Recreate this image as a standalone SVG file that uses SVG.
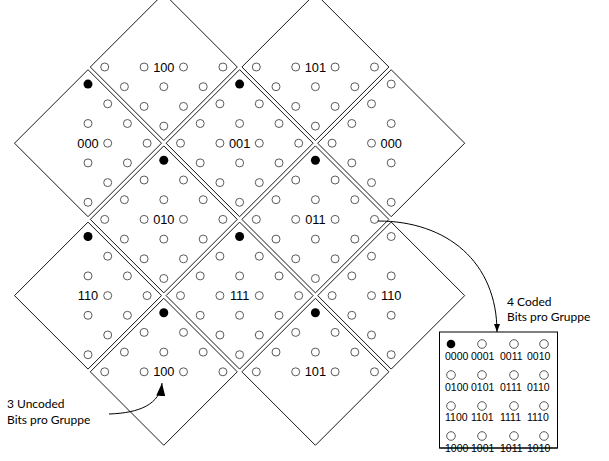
<svg xmlns="http://www.w3.org/2000/svg" xmlns:xlink="http://www.w3.org/1999/xlink" width="609" height="461" viewBox="0 0 609 461">
<style>
.dia{fill:#fff;stroke:#1a1a1a;stroke-width:1}
.o{fill:#fff;stroke:#5a5a5a;stroke-width:1}
.f{fill:#000;stroke:none}
.lbl{font-family:"Liberation Sans",Arial,sans-serif;font-size:12.8px;fill:#000;text-anchor:middle}
.bl{font-family:"Liberation Sans",Arial,sans-serif;font-size:10.5px;fill:#000}
.note{font-family:Lato,"Open Sans",sans-serif;font-size:12px;fill:#000}
.con{fill:none;stroke:#000;stroke-width:1}
</style>
<defs>
<marker id="ahS" markerUnits="userSpaceOnUse" markerWidth="8" markerHeight="6" refX="8" refY="3" orient="auto"><path d="M0,0 L8,3 L0,6 z" fill="#000"/></marker>
<marker id="ahL" markerUnits="userSpaceOnUse" markerWidth="13" markerHeight="9" refX="13" refY="4.5" orient="auto"><path d="M0,0 L13,4.5 L0,9 z" fill="#000"/></marker>
</defs>

<!-- top row -->
<g id="d100t" transform="translate(163.8,67)">
<polygon class="dia" points="0,-73.5 73.5,0 0,73.5 -73.5,0"/>
<circle class="o" r="4" cx="59.1" cy="0"/><circle class="o" r="4" cx="19.7" cy="0"/><circle class="o" r="4" cx="-19.7" cy="0"/><circle class="o" r="4" cx="-59.1" cy="0"/>
<circle class="o" r="4" cx="39.4" cy="19.7"/><circle class="o" r="4" cx="0" cy="19.7"/><circle class="o" r="4" cx="-39.4" cy="19.7"/>
<circle class="o" r="4" cx="19.7" cy="39.4"/><circle class="o" r="4" cx="-19.7" cy="39.4"/>
<circle class="o" r="4" cx="0" cy="59.1"/>
<text class="lbl" x="0" y="4.5">100</text>
</g>
<g id="d101t" transform="translate(315.4,67)">
<polygon class="dia" points="0,-73.5 73.5,0 0,73.5 -73.5,0"/>
<circle class="o" r="4" cx="59.1" cy="0"/><circle class="o" r="4" cx="19.7" cy="0"/><circle class="o" r="4" cx="-19.7" cy="0"/><circle class="o" r="4" cx="-59.1" cy="0"/>
<circle class="o" r="4" cx="39.4" cy="19.7"/><circle class="o" r="4" cx="0" cy="19.7"/><circle class="o" r="4" cx="-39.4" cy="19.7"/>
<circle class="o" r="4" cx="19.7" cy="39.4"/><circle class="o" r="4" cx="-19.7" cy="39.4"/>
<circle class="o" r="4" cx="0" cy="59.1"/>
<text class="lbl" x="0" y="4.5">101</text>
</g>

<!-- second row -->
<g id="d000l" transform="translate(88,143.2)">
<polygon class="dia" points="0,-73.5 73.5,0 0,73.5 -73.5,0"/>
<circle class="f" r="4.5" cx="0" cy="-59.1"/>
<circle class="o" r="4" cx="19.7" cy="-39.4"/>
<circle class="o" r="4" cx="39.4" cy="-19.7"/><circle class="o" r="4" cx="0" cy="-19.7"/>
<circle class="o" r="4" cx="59.1" cy="0"/><circle class="o" r="4" cx="19.7" cy="0"/>
<circle class="o" r="4" cx="39.4" cy="19.7"/><circle class="o" r="4" cx="0" cy="19.7"/>
<circle class="o" r="4" cx="19.7" cy="39.4"/>
<circle class="o" r="4" cx="0" cy="59.1"/>
<text class="lbl" x="0" y="4.5">000</text>
</g>
<g id="d001" transform="translate(239.6,143.2)">
<polygon class="dia" points="0,-73.5 73.5,0 0,73.5 -73.5,0"/>
<circle class="f" r="4.5" cx="0" cy="-59.1"/>
<circle class="o" r="4" cx="19.7" cy="-39.4"/><circle class="o" r="4" cx="-19.7" cy="-39.4"/>
<circle class="o" r="4" cx="39.4" cy="-19.7"/><circle class="o" r="4" cx="0" cy="-19.7"/><circle class="o" r="4" cx="-39.4" cy="-19.7"/>
<circle class="o" r="4" cx="59.1" cy="0"/><circle class="o" r="4" cx="19.7" cy="0"/><circle class="o" r="4" cx="-19.7" cy="0"/><circle class="o" r="4" cx="-59.1" cy="0"/>
<circle class="o" r="4" cx="39.4" cy="19.7"/><circle class="o" r="4" cx="0" cy="19.7"/><circle class="o" r="4" cx="-39.4" cy="19.7"/>
<circle class="o" r="4" cx="19.7" cy="39.4"/><circle class="o" r="4" cx="-19.7" cy="39.4"/>
<circle class="o" r="4" cx="0" cy="59.1"/>
<text class="lbl" x="0" y="4.5">001</text>
</g>
<g id="d000r" transform="translate(391.2,143.2)">
<polygon class="dia" points="0,-73.5 73.5,0 0,73.5 -73.5,0"/>
<circle class="o" r="4" cx="0" cy="-59.1"/>
<circle class="o" r="4" cx="-19.7" cy="-39.4"/>
<circle class="o" r="4" cx="-39.4" cy="-19.7"/><circle class="o" r="4" cx="0" cy="-19.7"/>
<circle class="o" r="4" cx="-59.1" cy="0"/><circle class="o" r="4" cx="-19.7" cy="0"/>
<circle class="o" r="4" cx="-39.4" cy="19.7"/><circle class="o" r="4" cx="0" cy="19.7"/>
<circle class="o" r="4" cx="-19.7" cy="39.4"/>
<circle class="o" r="4" cx="0" cy="59.1"/>
<text class="lbl" x="0" y="4.5">000</text>
</g>

<!-- third row -->
<g id="d010" transform="translate(163.8,219.4)">
<polygon class="dia" points="0,-73.5 73.5,0 0,73.5 -73.5,0"/>
<circle class="f" r="4.5" cx="0" cy="-59.1"/>
<circle class="o" r="4" cx="19.7" cy="-39.4"/><circle class="o" r="4" cx="-19.7" cy="-39.4"/>
<circle class="o" r="4" cx="39.4" cy="-19.7"/><circle class="o" r="4" cx="0" cy="-19.7"/><circle class="o" r="4" cx="-39.4" cy="-19.7"/>
<circle class="o" r="4" cx="59.1" cy="0"/><circle class="o" r="4" cx="19.7" cy="0"/><circle class="o" r="4" cx="-19.7" cy="0"/><circle class="o" r="4" cx="-59.1" cy="0"/>
<circle class="o" r="4" cx="39.4" cy="19.7"/><circle class="o" r="4" cx="0" cy="19.7"/><circle class="o" r="4" cx="-39.4" cy="19.7"/>
<circle class="o" r="4" cx="19.7" cy="39.4"/><circle class="o" r="4" cx="-19.7" cy="39.4"/>
<circle class="o" r="4" cx="0" cy="59.1"/>
<text class="lbl" x="0" y="4.5">010</text>
</g>
<g id="d011" transform="translate(315.4,219.4)">
<polygon class="dia" points="0,-73.5 73.5,0 0,73.5 -73.5,0"/>
<circle class="f" r="4.5" cx="0" cy="-59.1"/>
<circle class="o" r="4" cx="19.7" cy="-39.4"/><circle class="o" r="4" cx="-19.7" cy="-39.4"/>
<circle class="o" r="4" cx="39.4" cy="-19.7"/><circle class="o" r="4" cx="0" cy="-19.7"/><circle class="o" r="4" cx="-39.4" cy="-19.7"/>
<circle class="o" r="4" cx="59.1" cy="0"/><circle class="o" r="4" cx="19.7" cy="0"/><circle class="o" r="4" cx="-19.7" cy="0"/><circle class="o" r="4" cx="-59.1" cy="0"/>
<circle class="o" r="4" cx="39.4" cy="19.7"/><circle class="o" r="4" cx="0" cy="19.7"/><circle class="o" r="4" cx="-39.4" cy="19.7"/>
<circle class="o" r="4" cx="19.7" cy="39.4"/><circle class="o" r="4" cx="-19.7" cy="39.4"/>
<circle class="o" r="4" cx="0" cy="59.1"/>
<text class="lbl" x="0" y="4.5">011</text>
</g>

<!-- fourth row -->
<g id="d110l" transform="translate(88,295.6)">
<polygon class="dia" points="0,-73.5 73.5,0 0,73.5 -73.5,0"/>
<circle class="f" r="4.5" cx="0" cy="-59.1"/>
<circle class="o" r="4" cx="19.7" cy="-39.4"/>
<circle class="o" r="4" cx="39.4" cy="-19.7"/><circle class="o" r="4" cx="0" cy="-19.7"/>
<circle class="o" r="4" cx="59.1" cy="0"/><circle class="o" r="4" cx="19.7" cy="0"/>
<circle class="o" r="4" cx="39.4" cy="19.7"/><circle class="o" r="4" cx="0" cy="19.7"/>
<circle class="o" r="4" cx="19.7" cy="39.4"/>
<circle class="o" r="4" cx="0" cy="59.1"/>
<text class="lbl" x="0" y="4.5">110</text>
</g>
<g id="d111" transform="translate(239.6,295.6)">
<polygon class="dia" points="0,-73.5 73.5,0 0,73.5 -73.5,0"/>
<circle class="f" r="4.5" cx="0" cy="-59.1"/>
<circle class="o" r="4" cx="19.7" cy="-39.4"/><circle class="o" r="4" cx="-19.7" cy="-39.4"/>
<circle class="o" r="4" cx="39.4" cy="-19.7"/><circle class="o" r="4" cx="0" cy="-19.7"/><circle class="o" r="4" cx="-39.4" cy="-19.7"/>
<circle class="o" r="4" cx="59.1" cy="0"/><circle class="o" r="4" cx="19.7" cy="0"/><circle class="o" r="4" cx="-19.7" cy="0"/><circle class="o" r="4" cx="-59.1" cy="0"/>
<circle class="o" r="4" cx="39.4" cy="19.7"/><circle class="o" r="4" cx="0" cy="19.7"/><circle class="o" r="4" cx="-39.4" cy="19.7"/>
<circle class="o" r="4" cx="19.7" cy="39.4"/><circle class="o" r="4" cx="-19.7" cy="39.4"/>
<circle class="o" r="4" cx="0" cy="59.1"/>
<text class="lbl" x="0" y="4.5">111</text>
</g>
<g id="d110r" transform="translate(391.2,295.6)">
<polygon class="dia" points="0,-73.5 73.5,0 0,73.5 -73.5,0"/>
<circle class="o" r="4" cx="0" cy="-59.1"/>
<circle class="o" r="4" cx="-19.7" cy="-39.4"/>
<circle class="o" r="4" cx="-39.4" cy="-19.7"/><circle class="o" r="4" cx="0" cy="-19.7"/>
<circle class="o" r="4" cx="-59.1" cy="0"/><circle class="o" r="4" cx="-19.7" cy="0"/>
<circle class="o" r="4" cx="-39.4" cy="19.7"/><circle class="o" r="4" cx="0" cy="19.7"/>
<circle class="o" r="4" cx="-19.7" cy="39.4"/>
<circle class="o" r="4" cx="0" cy="59.1"/>
<text class="lbl" x="0" y="4.5">110</text>
</g>

<!-- bottom row -->
<g id="d100b" transform="translate(163.8,371.8)">
<polygon class="dia" points="0,-73.5 73.5,0 0,73.5 -73.5,0"/>
<circle class="f" r="4.5" cx="0" cy="-59.1"/>
<circle class="o" r="4" cx="19.7" cy="-39.4"/><circle class="o" r="4" cx="-19.7" cy="-39.4"/>
<circle class="o" r="4" cx="39.4" cy="-19.7"/><circle class="o" r="4" cx="0" cy="-19.7"/><circle class="o" r="4" cx="-39.4" cy="-19.7"/>
<circle class="o" r="4" cx="59.1" cy="0"/><circle class="o" r="4" cx="19.7" cy="0"/><circle class="o" r="4" cx="-19.7" cy="0"/><circle class="o" r="4" cx="-59.1" cy="0"/>
<text class="lbl" x="0" y="4.5">100</text>
</g>
<g id="d101b" transform="translate(315.4,371.8)">
<polygon class="dia" points="0,-73.5 73.5,0 0,73.5 -73.5,0"/>
<circle class="f" r="4.5" cx="0" cy="-59.1"/>
<circle class="o" r="4" cx="19.7" cy="-39.4"/><circle class="o" r="4" cx="-19.7" cy="-39.4"/>
<circle class="o" r="4" cx="39.4" cy="-19.7"/><circle class="o" r="4" cx="0" cy="-19.7"/><circle class="o" r="4" cx="-39.4" cy="-19.7"/>
<circle class="o" r="4" cx="59.1" cy="0"/><circle class="o" r="4" cx="19.7" cy="0"/><circle class="o" r="4" cx="-19.7" cy="0"/><circle class="o" r="4" cx="-59.1" cy="0"/>
<text class="lbl" x="0" y="4.5">101</text>
</g>

<!-- coded-bits box -->
<g id="coded">
<rect x="439.5" y="332" width="118" height="116" fill="none" stroke="#000" stroke-width="1"/>
<circle class="f" r="4.3" cx="451" cy="344"/><circle class="o" r="4.3" cx="482" cy="344"/><circle class="o" r="4.3" cx="514" cy="344"/><circle class="o" r="4.3" cx="544" cy="344"/>
<circle class="o" r="4.3" cx="451" cy="375"/><circle class="o" r="4.3" cx="482" cy="375"/><circle class="o" r="4.3" cx="514" cy="375"/><circle class="o" r="4.3" cx="544" cy="375"/>
<circle class="o" r="4.3" cx="451" cy="406"/><circle class="o" r="4.3" cx="482" cy="406"/><circle class="o" r="4.3" cx="514" cy="406"/><circle class="o" r="4.3" cx="544" cy="406"/>
<circle class="o" r="4.3" cx="451" cy="436"/><circle class="o" r="4.3" cx="482" cy="436"/><circle class="o" r="4.3" cx="514" cy="436"/><circle class="o" r="4.3" cx="544" cy="436"/>
<text class="bl" x="445" y="360">0000</text><text class="bl" x="471" y="360">0001</text><text class="bl" x="500" y="360">0011</text><text class="bl" x="527" y="360">0010</text>
<text class="bl" x="445" y="391">0100</text><text class="bl" x="471" y="391">0101</text><text class="bl" x="500" y="391">0111</text><text class="bl" x="527" y="391">0110</text>
<text class="bl" x="445" y="421">1100</text><text class="bl" x="471" y="421">1101</text><text class="bl" x="500" y="421">1111</text><text class="bl" x="527" y="421">1110</text>
<text class="bl" x="445" y="452">1000</text><text class="bl" x="471" y="452">1001</text><text class="bl" x="500" y="452">1011</text><text class="bl" x="527" y="452">1010</text>
<line x1="439.5" y1="448" x2="557.5" y2="448" stroke="#000" stroke-width="1"/>
</g>

<g id="notes">
<text class="note" x="507" y="306">4 Coded</text>
<text class="note" x="507" y="321">Bits pro Gruppe</text>
<text class="note" x="7" y="408">3 Uncoded</text>
<text class="note" x="7" y="424">Bits pro Gruppe</text>
</g>

<g id="connectors">
<path class="con" d="M378,221 C447,221 497,262 497,332" marker-end="url(#ahS)"/>
<path class="con" d="M109,414 C140,413 160,404 162,383" marker-end="url(#ahL)"/>
</g>
</svg>
